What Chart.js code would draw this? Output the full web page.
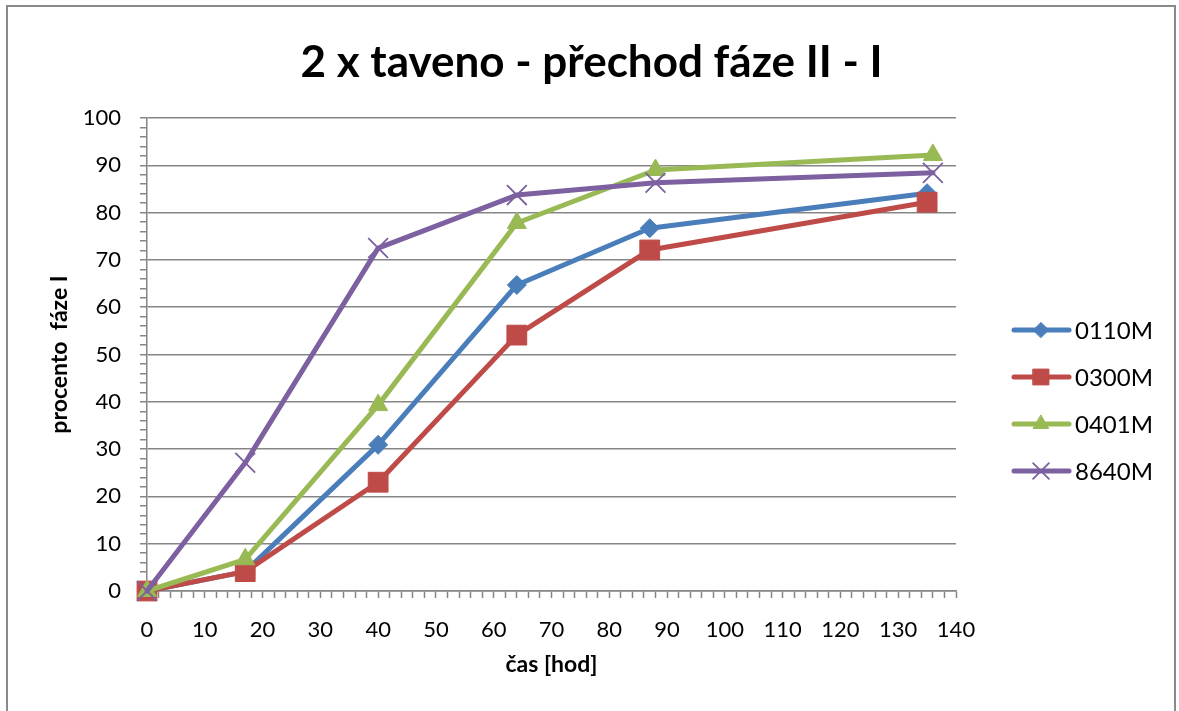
<!DOCTYPE html>
<html>
<head>
<meta charset="utf-8">
<title>2 x taveno - přechod fáze II - I</title>
<script src="https://cdn.jsdelivr.net/npm/chart.js@4.4.1/dist/chart.umd.min.js"></script>
<style>
  html, body { margin: 0; padding: 0; background: #fff; }
  body { width: 1179px; height: 711px; overflow: hidden; position: relative; }
  #frame { position: absolute; left: 6px; top: 5px; width: 1170px; height: 760px;
           border: 2px solid #8a8a8a; box-sizing: border-box; }
  #wrap { position: absolute; left: 0; top: 0; width: 1179px; height: 711px; }
</style>
</head>
<body>
<div id="frame"></div>
<div id="wrap"><canvas id="chart" width="1179" height="711"></canvas></div>
<script>
// measurement times [h] and share of phase I [%] for each sample
const seriesNames = ['0110M', '0300M', '0401M', '8640M'];
const hoursA = [0, 17, 40, 64, 87, 135];
const hoursB = [0, 17, 40, 64, 88, 136];
const pct0110M = [0, 4.1, 30.9, 64.7, 76.7, 84.1];
const pct0300M = [0, 4.1, 23.0, 54.1, 72.1, 82.2];
const pct0401M = [0, 6.7, 39.3, 77.8, 89.0, 92.2];
const pct8640M = [0, 27.1, 72.5, 83.7, 86.3, 88.4];

const chartTitle = '2 x taveno - přechod fáze II - I';
const xTitle = 'čas [hod]';
const yTitle = 'procento  fáze I';

const seriesData = [
  { name: seriesNames[0], x: hoursA, y: pct0110M },
  { name: seriesNames[1], x: hoursA, y: pct0300M },
  { name: seriesNames[2], x: hoursB, y: pct0401M },
  { name: seriesNames[3], x: hoursB, y: pct8640M }
];

const seriesStyle = [
  { color: '#4a7ebb', pointStyle: 'rectRot',  radius: 9.5, pbw: 1, order: 3 },
  { color: '#be4b48', pointStyle: 'rect',     radius: 14,  pbw: 1, order: 2 },
  { color: '#98b954', pointStyle: 'triangle', radius: 11,  pbw: 1, order: 1 },
  { color: '#7d60a0', pointStyle: 'crossRot', radius: 14,  pbw: 1.8, order: 0 }
];

const gridGray = '#868686';
const FONT = 'Lato';

const datasets = seriesData.map((s, i) => {
  const st = seriesStyle[i];
  return {
    label: s.name,
    data: s.x.map((h, k) => ({ x: h, y: s.y[k] })),
    borderColor: st.color,
    backgroundColor: st.color,
    borderWidth: 5,
    borderCapStyle: 'round',
    borderJoinStyle: 'round',
    tension: 0,
    pointStyle: st.pointStyle,
    pointRadius: st.radius,
    pointHoverRadius: st.radius,
    pointBackgroundColor: st.color,
    pointBorderColor: st.color,
    pointBorderWidth: st.pbw,
    order: st.order,
    clip: false
  };
});

// chart heading, centred on the whole canvas
const heading = {
  id: 'heading',
  afterDraw(chart) {
    const ctx = chart.ctx;
    ctx.save();
    ctx.fillStyle = '#000';
    ctx.font = 'bold 44px ' + FONT;
    ctx.textAlign = 'center';
    ctx.textBaseline = 'middle';
    ctx.fillText(chartTitle, chart.width / 2 + 2, 63);
    ctx.restore();
  }
};

// legend drawn at the right: line segment with marker, then the series name
const sideLegend = {
  id: 'sideLegend',
  afterDraw(chart) {
    const ctx = chart.ctx;
    const lineX0 = 1014, lineX1 = 1069, markX = 1041, textX = 1075;
    const rows = [330, 377, 424, 471];
    chart.data.datasets.forEach((ds, i) => {
      const y = rows[i];
      ctx.save();
      ctx.strokeStyle = ds.borderColor;
      ctx.lineWidth = ds.borderWidth;
      ctx.lineCap = 'round';
      ctx.beginPath();
      ctx.moveTo(lineX0, y);
      ctx.lineTo(lineX1, y);
      ctx.stroke();
      ctx.fillStyle = ds.pointBackgroundColor;
      ctx.strokeStyle = ds.pointBorderColor;
      ctx.lineWidth = ds.pointBorderWidth;
      Chart.helpers.drawPoint(ctx, {
        pointStyle: ds.pointStyle,
        radius: ds.pointRadius * 0.8,
        rotation: 0,
        borderWidth: ds.pointBorderWidth
      }, markX, y);
      ctx.fillStyle = '#000';
      ctx.font = '24px ' + FONT;
      ctx.textAlign = 'left';
      ctx.textBaseline = 'middle';
      ctx.fillText(ds.label, textX, y + 1);
      ctx.restore();
    });
  }
};

function build() {
  new Chart(document.getElementById('chart'), {
    type: 'line',
    data: { datasets },
    plugins: [heading, sideLegend],
    options: {
      responsive: false,
      animation: false,
      events: [],
      layout: { padding: { left: 0, right: 223, top: 118, bottom: 0 } },
      plugins: {
        legend: { display: false },
        tooltip: { enabled: false },
        title: { display: false }
      },
      scales: {
        x: {
          type: 'linear',
          min: 0,
          max: 140,
          afterFit(scale) { scale.height = 120; },
          ticks: {
            stepSize: 2,
            autoSkip: false,
            maxRotation: 0,
            padding: 19,
            color: '#000',
            font: { family: FONT, size: 22 },
            callback: v => (v % 10 === 0 ? String(v) : '')
          },
          grid: {
            drawOnChartArea: false,
            drawTicks: true,
            tickLength: 7,
            tickColor: gridGray,
            tickWidth: 1.5
          },
          border: { color: gridGray, width: 1.5 },
          title: {
            display: true,
            text: xTitle,
            color: '#000',
            font: { family: FONT, size: 23, weight: 'bold' },
            padding: { top: 0, bottom: 33 }
          }
        },
        y: {
          min: 0,
          max: 100,
          afterFit(scale) { scale.width = 147; },
          ticks: {
            stepSize: 2,
            autoSkip: false,
            padding: 19,
            color: '#000',
            font: { family: FONT, size: 22 },
            callback: v => (v % 10 === 0 ? String(v) : '')
          },
          grid: {
            color: ctx => (ctx.tick && ctx.tick.value % 10 === 0 ? gridGray : 'rgba(0,0,0,0)'),
            lineWidth: 1.5,
            drawTicks: true,
            tickLength: 7,
            tickColor: gridGray,
            tickWidth: 1.5
          },
          border: { color: gridGray, width: 1.5 },
          title: {
            display: true,
            text: yTitle,
            color: '#000',
            font: { family: FONT, size: 23, weight: 'bold' },
            padding: { top: 46, bottom: 0 }
          }
        }
      }
    }
  });
}

Promise.all([
  document.fonts.load('22px ' + FONT),
  document.fonts.load('bold 22px ' + FONT)
]).then(build, build);
</script>
</body>
</html>
